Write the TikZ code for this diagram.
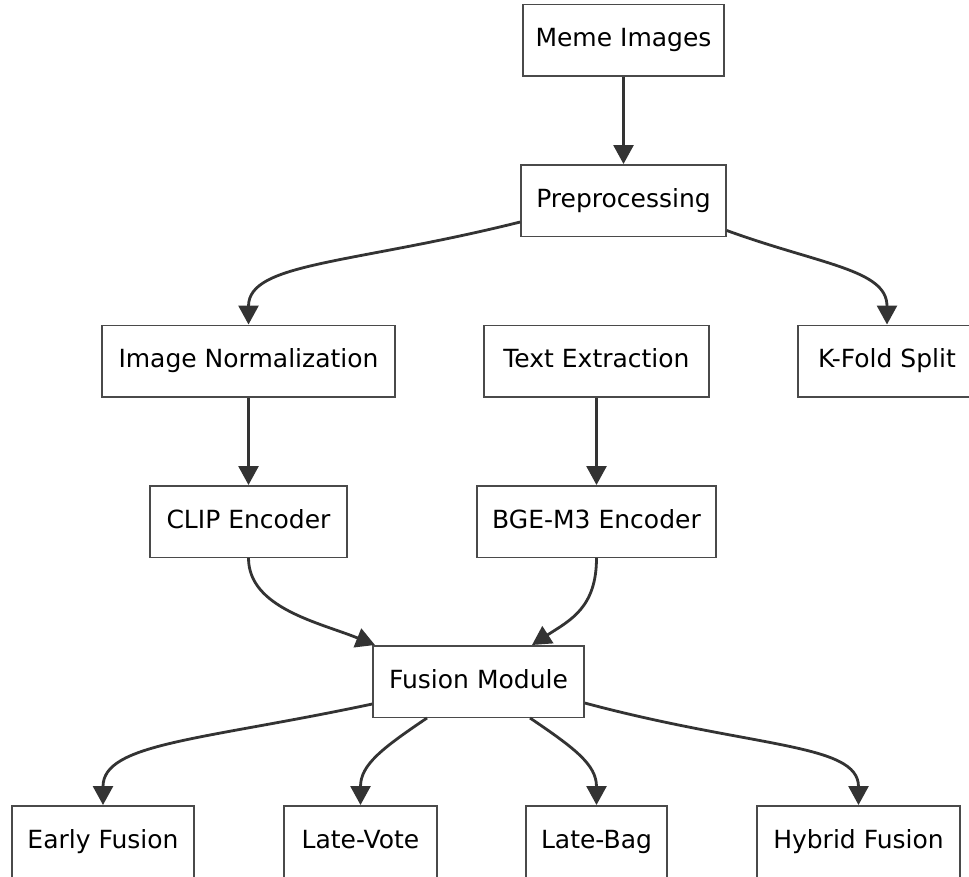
\documentclass[tikz,border=0pt]{standalone}
\usepackage{fontspec}
\setmainfont{DejaVu Sans}
\usetikzlibrary{arrows.meta}
\definecolor{edgec}{HTML}{333333}
\definecolor{bordc}{HTML}{4a4a4a}
\begin{document}
\begin{tikzpicture}[x=1pt,y=1pt,
  box/.style={draw=bordc, line width=1.5pt, fill=white, minimum height=71.5pt,
    inner sep=0pt, text height=18pt, text depth=5pt,
    font=\fontsize{25}{29}\selectfont, text=black},
  link/.style={draw=edgec, line width=2.8pt, -{Triangle[length=19pt,width=20pt]}}]
\useasboundingbox (0,0) rectangle (969,-876);
\fill[white] (0,0) rectangle (969,-876);
% nodes
\node[box, minimum width=201pt] (meme) at (623.5,-40) {Meme Images};
\node[box, minimum width=205pt] (prep) at (623.5,-200.5) {Preprocessing};
\node[box, minimum width=293pt] (norm) at (248.5,-361) {Image Normalization};
\node[box, minimum width=225pt] (text) at (596.5,-361) {Text Extraction};
\node[box, minimum width=178pt] (kfold) at (887,-361) {K-Fold Split};
\node[box, minimum width=197pt] (clip) at (248.5,-521.5) {CLIP Encoder};
\node[box, minimum width=239pt] (bge) at (596.5,-521.5) {BGE-M3 Encoder};
\node[box, minimum width=211pt] (fusion) at (478.5,-681.5) {Fusion Module};
\node[box, minimum width=182pt] (early) at (103,-841.5) {Early Fusion};
\node[box, minimum width=153pt] (vote) at (360.5,-841.5) {Late-Vote};
\node[box, minimum width=141pt] (bag) at (596.5,-841.5) {Late-Bag};
\node[box, minimum width=203pt] (hybrid) at (858.5,-841.5) {Hybrid Fusion};
% edges
\draw[link] (meme.south) -- (prep.north);
\draw[link] ([yshift=-21.5pt]prep.west) .. controls +(194:175) and +(0,62) .. (norm.north);
\draw[link] ([yshift=-30pt]prep.east) .. controls +(-20:100) and +(0,55) .. (kfold.north);
\draw[link] (norm.south) -- (clip.north);
\draw[link] (text.south) -- (bge.north);
\draw[link] (clip.south) .. controls +(0,-50) and +(158:60) .. ([xshift=-103.5pt]fusion.north);
\draw[link] (bge.south) .. controls +(0,-50) and +(33:45) .. ([xshift=53.5pt]fusion.north);
\draw[link] ([yshift=-22.5pt]fusion.west) .. controls +(192:175) and +(0,62) .. (early.north);
\draw[link] ([xshift=-51.5pt]fusion.south) .. controls +(214:55) and +(0,40) .. (vote.north);
\draw[link] ([xshift=51.5pt]fusion.south) .. controls +(-34:55) and +(0,40) .. (bag.north);
\draw[link] ([yshift=-21.5pt]fusion.east) .. controls +(-15:175) and +(0,62) .. (hybrid.north);
\end{tikzpicture}
\end{document}
